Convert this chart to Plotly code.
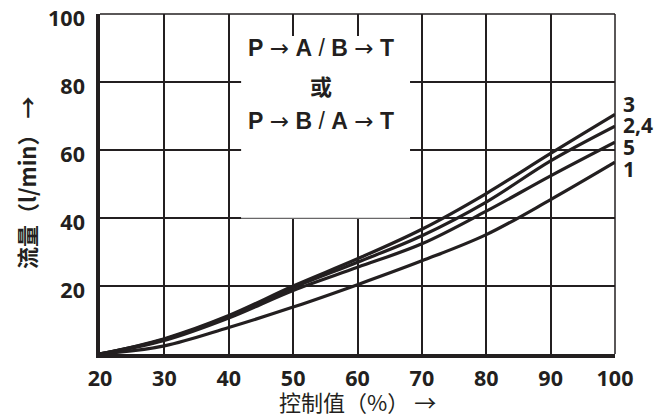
import plotly.graph_objects as go

x_vals = [20, 30, 40, 50, 60, 70, 80, 90, 100]
curve_3 = [0, 4.5, 11.3, 20.0, 28.0, 36.7, 47.2, 59.0, 70.5]
curve_24 = [0, 4.3, 11.0, 19.5, 27.0, 34.8, 44.7, 56.8, 67.0]
curve_5 = [0, 4.0, 10.6, 18.7, 25.5, 32.4, 42.0, 52.4, 62.3]
curve_1 = [0, 2.4, 7.8, 13.8, 20.4, 27.4, 35.1, 45.4, 56.4]
series = [("3", curve_3), ("2,4", curve_24), ("5", curve_5), ("1", curve_1)]
label_y = {"3": 73.5, "2,4": 67.5, "5": 60.9, "1": 54.3}

x_ticks = [20, 30, 40, 50, 60, 70, 80, 90, 100]
y_ticks = [0, 20, 40, 60, 80, 100]
y_ticktext = ["", "20", "40", "60", "80", "100"]

INK = "#231f20"
NUM_FONT = "Liberation Sans Narrow, Open Sans, sans-serif"

fig = go.Figure()
for name, ys in series:
    fig.add_trace(go.Scatter(x=x_vals, y=ys, mode="lines", name=name,
                             line=dict(color=INK, width=3.2, shape="spline", smoothing=1.0),
                             showlegend=False, hoverinfo="skip"))

tick_font = dict(family=NUM_FONT, size=21.5, color=INK, weight="bold")
# page body adds an 8px offset, so the figure is 8px smaller and margins shifted
fig.update_layout(
    width=663, height=408,
    margin=dict(l=92, r=56, t=6, b=62),
    paper_bgcolor="white", plot_bgcolor="white",
    xaxis=dict(range=[20, 100], tickvals=x_ticks, ticktext=[str(v) for v in x_ticks],
               showgrid=True, gridcolor=INK, gridwidth=1.5, zeroline=False, automargin=False,
               showline=True, linecolor=INK, linewidth=3.5, ticks="", ticklabelstandoff=2,
               ticklabeloverflow="allow", tickfont=tick_font),
    yaxis=dict(range=[0, 100], tickvals=y_ticks, ticktext=y_ticktext,
               showgrid=True, gridcolor=INK, gridwidth=1.5, zeroline=False, automargin=False,
               showline=True, linecolor=INK, linewidth=3.5, ticks="", ticklabelstandoff=7,
               ticklabelshift=4, ticklabeloverflow="allow", tickfont=tick_font),
)

# axis titles
fig.add_annotation(text="控制值（%） →", xref="paper", yref="paper",
                   x=(357 - 100) / 515, y=-(401 - 354) / 340, xanchor="center", yanchor="middle",
                   showarrow=False, font=dict(family="Noto Sans CJK SC", size=22, color=INK))
fig.add_annotation(text="流量（l/min） →", xref="paper", yref="paper",
                   x=-(100 - 26) / 515, y=(354 - 183) / 340, textangle=-90,
                   xanchor="center", yanchor="middle", showarrow=False,
                   font=dict(family="Noto Sans CJK SC", size=22, color=INK, weight="bold"))

# top and right border
fig.add_shape(type="line", xref="paper", yref="paper", x0=0, x1=1, y0=1, y1=1,
              line=dict(color=INK, width=1.5))
fig.add_shape(type="line", xref="paper", yref="paper", x0=1, x1=1, y0=0, y1=1,
              line=dict(color=INK, width=1.5))
# text box
fig.add_shape(type="rect", xref="paper", yref="paper", x0=0.274, x1=0.602, y0=0.4, y1=0.935,
              fillcolor="white", line=dict(width=0), layer="above")
fig.add_shape(type="line", xref="paper", yref="paper", x0=0.274, x1=0.602, y0=0.4, y1=0.4,
              line=dict(color="#b0b0b0", width=1), layer="above")

ARW = '<span style="font-family:DejaVu Sans;font-weight:normal">→</span>'
SL = '<span style="font-weight:normal">/</span>'
box_font = dict(family="Liberation Sans, Arial, sans-serif", size=23, color=INK)
box_lines = [(f"<b>P</b> {ARW} <b>A</b> {SL} <b>B</b> {ARW} <b>T</b>", (354 - 48) / 340, box_font),
             ("<b>或</b>", (354 - 85) / 340, dict(family="Noto Sans CJK SC", size=22, color=INK)),
             (f"<b>P</b> {ARW} <b>B</b> {SL} <b>A</b> {ARW} <b>T</b>", (354 - 121) / 340, box_font)]
for txt, yy, fnt in box_lines:
    fig.add_annotation(text=txt, xref="paper", yref="paper", x=0.43, y=yy,
                       xanchor="center", yanchor="middle", showarrow=False, font=fnt)

for name, _ in series:
    fig.add_annotation(text=name, xref="paper", yref="y", x=1, y=label_y[name],
                       xanchor="left", yanchor="middle", xshift=6, showarrow=False,
                       font=dict(family=NUM_FONT, size=21, color=INK, weight="bold"))

fig.write_html("out.html")
